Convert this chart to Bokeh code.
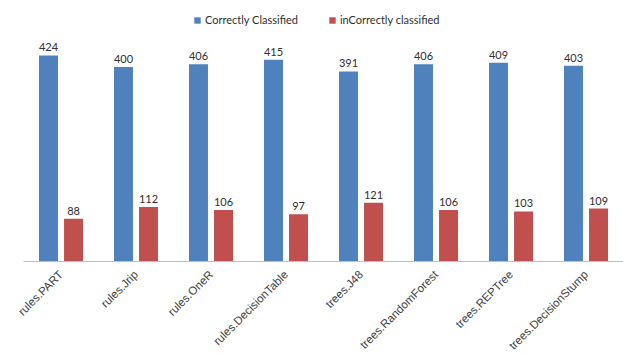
import math
from bokeh.plotting import figure
from bokeh.models import ColumnDataSource, FactorRange, Range1d, Legend, LegendItem
from bokeh.transform import dodge
from bokeh.embed import file_html
from bokeh.resources import INLINE

classifiers = ["rules.PART", "rules.Jrip", "rules.OneR", "rules.DecisionTable",
               "trees.J48", "trees.RandomForest", "trees.REPTree", "trees.DecisionStump"]
correct = [424, 400, 406, 415, 391, 406, 409, 403]
incorrect = [88, 112, 106, 97, 121, 106, 103, 109]

src = ColumnDataSource(dict(
    x=classifiers, correct=correct, incorrect=incorrect,
    correct_lbl=[str(v) for v in correct],
    incorrect_lbl=[str(v) for v in incorrect],
))

p = figure(frame_width=600, frame_height=261,
           x_range=FactorRange(*classifiers, range_padding=0),
           y_range=Range1d(0, 537), output_backend="svg", toolbar_location=None,
           min_border_left=23, min_border_right=0, min_border_top=0, min_border_bottom=0)
p.outline_line_color = None
p.background_fill_color = "white"
p.border_fill_color = "white"
p.xgrid.grid_line_color = None
p.ygrid.grid_line_color = None
p.yaxis.visible = False

BLUE = "#4F81BD"
RED = "#C0504D"

r1 = p.vbar(x=dodge("x", -0.167, range=p.x_range), top="correct", width=0.253,
            source=src, fill_color=BLUE, line_color=None)
r2 = p.vbar(x=dodge("x", 0.167, range=p.x_range), top="incorrect", width=0.253,
            source=src, fill_color=RED, line_color=None)

p.text(x=dodge("x", -0.167, range=p.x_range), y="correct", text="correct_lbl", source=src,
       text_align="center", text_baseline="bottom", y_offset=-4,
       text_font_size="11px", text_color="#303030", text_font={"value": "Lato"})
p.text(x=dodge("x", 0.167, range=p.x_range), y="incorrect", text="incorrect_lbl", source=src,
       text_align="center", text_baseline="bottom", y_offset=-4,
       text_font_size="11px", text_color="#303030", text_font={"value": "Lato"})

ax = p.xaxis[0]
ax.major_label_orientation = math.pi / 4
ax.major_label_text_font = "Liberation Sans"
ax.major_label_text_font_size = "11.5px"
ax.major_label_text_color = "#404040"
ax.axis_line_color = "#BFBFBF"
ax.axis_line_width = 1
ax.major_tick_line_color = None
ax.minor_tick_line_color = None
ax.major_label_standoff = 5

legend = Legend(items=[LegendItem(label="Correctly Classified", renderers=[r1]),
                       LegendItem(label="inCorrectly classified", renderers=[r2])],
                orientation="horizontal", location=(170, 235),
                label_text_font="Lato", label_text_font_size="11px", label_text_color="#303030",
                glyph_width=8, glyph_height=8, label_standoff=4, spacing=30,
                padding=2, margin=0, border_line_color=None, background_fill_alpha=0,
                label_height=12)
p.add_layout(legend)

open("out.html", "w").write(file_html(p, INLINE))
